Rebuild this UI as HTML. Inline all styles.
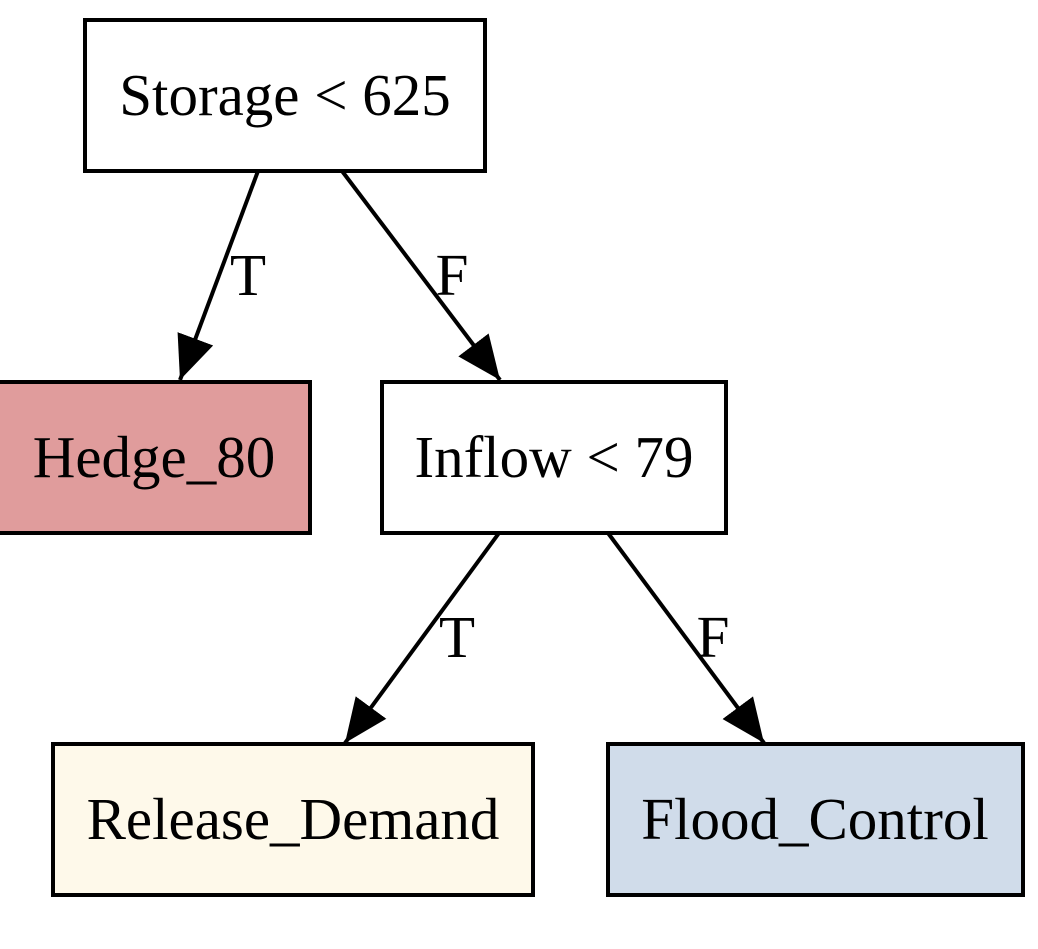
<!DOCTYPE html>
<html><head><style>html,body{margin:0;padding:0;background:#fff;}svg{display:block}</style></head>
<body>
<svg width="1038" height="949" viewBox="0 0 1038 949" xmlns="http://www.w3.org/2000/svg" font-family="Liberation Serif, serif" font-size="59">
<defs>
<marker id="a" markerUnits="userSpaceOnUse" markerWidth="46" markerHeight="38" refX="44" refY="19" orient="auto">
<path d="M0,0 L44,19 L0,38 Z" fill="#000"/>
</marker>
</defs>
<g fill="none" stroke="#000" stroke-width="4">
<rect x="85" y="20" width="400" height="151" fill="#fff"/>
<rect x="-3" y="382" width="313" height="151" fill="#e09c9c"/>
<rect x="382" y="382" width="344" height="151" fill="#fff"/>
<rect x="53" y="744" width="480" height="151" fill="#fef9ea"/>
<rect x="608" y="744" width="415" height="151" fill="#d0dcea"/>
<line x1="258" y1="171" x2="180" y2="380" marker-end="url(#a)"/>
<line x1="342" y1="171" x2="500" y2="380" marker-end="url(#a)"/>
<line x1="499" y1="533" x2="345" y2="743" marker-end="url(#a)"/>
<line x1="608" y1="533" x2="764" y2="743" marker-end="url(#a)"/>
</g>
<g fill="#000" text-anchor="middle">
<text x="285" y="115">Storage &lt; 625</text>
<text x="154" y="477">Hedge_80</text>
<text x="554" y="477">Inflow &lt; 79</text>
<text x="293" y="839">Release_Demand</text>
<text x="815" y="839">Flood_Control</text>
<text x="248" y="295">T</text>
<text x="452" y="295">F</text>
<text x="457" y="657">T</text>
<text x="713" y="657">F</text>
</g>
</svg>
</body></html>
